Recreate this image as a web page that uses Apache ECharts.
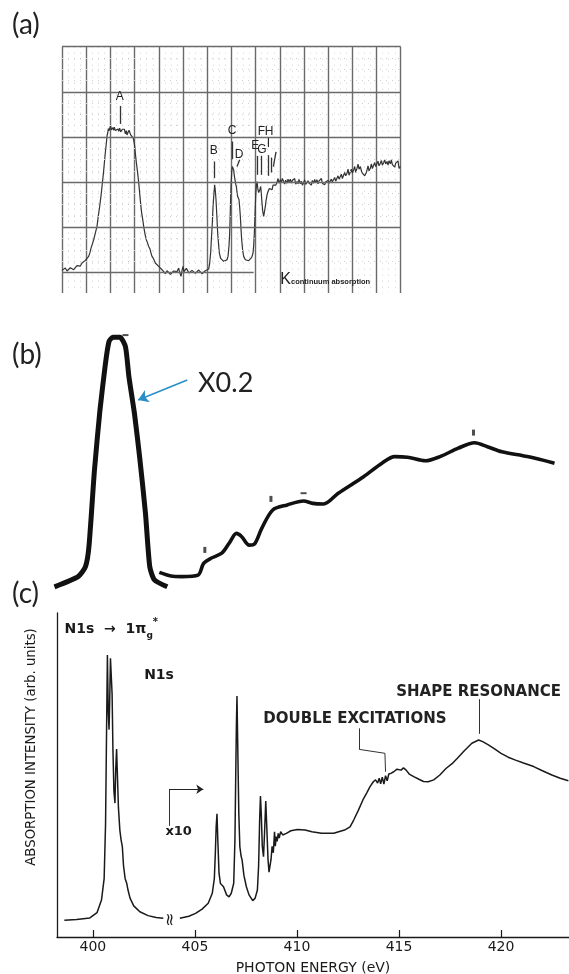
<!DOCTYPE html>
<html>
<head>
<meta charset="utf-8">
<script src="https://cdn.jsdelivr.net/npm/echarts@6/dist/echarts.min.js"></script>
<style>
  html, body { margin: 0; padding: 0; background: #fff; }
  #chart { width: 569px; height: 974px; }
</style>
</head>
<body>
<div id="chart"></div>
<script>
// ---------------- panel (a): chart-recorder trace, chart-paper units ----------------
const traceA = [
  [0,6],[5,12],[10,13],[15,4],[20,3],[25,14],[30,18],[35,8],[40,10],[45,20],[50,23],[55,19],[60,28],[65,30],
  [70,36],[75,40],[80,48],[84,60],[87,73],[91,85],[95,98],[100,118],[105,138],[109,170],[113,198],[117,230],
  [120,258],[124,295],[127,328],[130,360],[133,388],[135,410],[137,418],[139,432],[141,425],[143,433],[146,440],
  [148,428],[150,423],[153,435],[155,427],[157,436],[160,426],[162,432],[165,420],[168,431],[170,424],[173,433],
  [176,422],[178,418],[181,430],[184,425],[187,430],[190,416],[193,426],[195,413],[198,420],[201,427],[203,423],
  [206,413],[208,418],[210,416],[213,405],[215,398],[218,380],[220,358],[223,330],[227,298],[230,270],[233,238],
  [236,205],[239,178],[242,160],[245,138],[249,115],[253,98],[256,90],[260,78],[264,70],[267,58],[270,48],
  [275,40],[280,28],[285,25],[290,18],[295,14],[300,8],[305,2],[310,-4],[315,5],[320,3],[325,-6],[330,-2],
  [335,4],[340,8],[345,2],[350,13],[353,0],[357,-12],[360,5],[363,18],[366,2],[370,3],[373,12],[377,8],
  [381,-2],[385,-4],[390,6],[395,3],[400,-3],[405,-2],[410,7],[415,6],[420,-4],[425,-7],[430,5],[435,3],
  [440,10],[443,28],[446,60],[448,98],[451,150],[453,198],[456,240],[458,263],[460,245],[462,218],[465,160],
  [467,118],[470,80],[472,58],[476,42],[480,38],[485,33],[490,33],[495,38],[498,48],[501,80],[503,118],
  [505,190],[507,258],[509,300],[511,318],[513,312],[515,308],[517,290],[519,278],[521,265],[523,258],[525,240],
  [527,228],[529,222],[531,218],[533,195],[535,168],[537,130],[539,98],[542,65],[545,48],[550,38],[555,33],
  [560,35],[565,38],[569,45],[573,58],[575,80],[577,118],[579,175],[581,228],[583,260],[585,273],[587,255],
  [588,248],[590,240],[592,238],[594,250],[596,258],[598,235],[600,208],[602,185],[605,168],[607,180],[610,198],
  [612,215],[615,233],[617,240],[620,243],[622,252],[625,258],[627,250],[630,248],[633,262],[637,268],[641,262],
  [645,270],[648,282],[651,268],[655,278],[658,270],[661,282],[665,273],[668,265],[671,277],[675,268],[678,280],
  [681,271],[685,280],[688,268],[691,276],[695,270],[698,282],[701,265],[705,273],[708,266],[711,279],[715,266],
  [718,274],[721,262],[725,270],[728,278],[731,264],[735,263],[738,275],[741,268],[745,273],[748,262],[751,276],
  [755,268],[758,279],[761,270],[765,278],[768,266],[771,275],[775,270],[778,282],[781,268],[785,273],[788,263],
  [791,272],[795,266],[798,276],[801,268],[805,270],[808,280],[811,272],[815,273],[818,285],[821,274],[825,278],
  [828,290],[831,280],[835,283],[838,295],[841,282],[845,288],[848,300],[851,290],[855,298],[858,310],[861,292],
  [865,293],[868,310],[871,298],[875,308],[878,318],[881,300],[885,313],[888,325],[891,310],[895,318],[898,305],
  [901,298],[905,303],[908,290],[910,288],[913,300],[915,308],[918,320],[921,305],[925,313],[928,326],[931,312],
  [935,318],[938,330],[941,318],[945,323],[948,334],[951,320],[955,328],[958,336],[961,322],[965,330],[968,338],
  [971,326],[975,333],[978,322],[981,335],[985,326],[988,338],[991,324],[995,330],[998,316],[1001,328],[1005,323],
  [1008,335],[1011,312],[1015,318]
];
const paperRows = [0, 135.6, 271.2, 406.8, 542.4, 678];
const lettersA = ['A', 'B', 'C', 'D', 'E', 'F', 'G', 'H', 'I'];
const letterAt = [[173,528],[455,365],[510,426],[531,353],[580,380],[598,422],[600,368],[621,422],[619,386]];
const pointersA = [
  [[175,500],[175,446]], [[457,333],[457,283]], [[511,393],[511,340]], [[533,338],[525,318]],
  [[585,350],[585,293]], [[597,350],[597,293]], [[620,352],[620,290]], [[628,345],[628,300]],
  [[642,362],[634,318]]
];

// ---------------- panel (b): earlier spectrum, eV scale ----------------
const traceB1 = [
  [398.11,4.4],[399.27,7.8],[399.63,11.1],[399.80,17.8],[400.07,43.3],[400.34,63.3],[400.61,78.9],
  [400.78,86.1],[400.97,87.6],[401.32,87.6],[401.59,84.4],[401.76,74.4],[402.03,62.2],[402.30,46.7],
  [402.57,28.9],[402.78,11.1],[403.01,6.7],[403.64,4.4]
];
const traceB2 = [
  [403.25,9.2],[403.82,8.0],[404.35,7.8],[405.15,8.3],[405.42,12.2],[405.78,13.9],[406.31,15.6],
  [406.67,18.9],[407.03,22.2],[407.29,21.1],[407.65,18.3],[407.92,18.7],[408.27,23.9],[408.81,30.0],
  [409.52,31.7],[410.32,33.0],[410.77,32.2],[411.30,32.0],[412.02,35.6],[413.26,41.1],[414.16,45.6],
  [414.78,47.8],[415.41,47.6],[416.30,46.4],[417.01,47.8],[417.90,50.6],[418.70,52.4],[419.33,51.1],
  [420.04,49.4],[421.29,47.8],[422.62,45.6]
];
const specksB = [[405.48,16.7],[408.72,33.7],[418.65,55.8]];
const dashesB = [[410.32,35.6],[401.59,88.3]];

// ---------------- panel (c): N2 K-shell absorption ----------------
const traceC1 = [
  [398.6,5.2],[399.2,5.4],[399.85,5.9],[400.2,7.5],[400.42,11.4],[400.55,18],[400.62,35],[400.68,70],
  [400.71,87],[400.75,70],[400.79,64],[400.82,72],[400.86,86],[400.9,86.5],[400.94,75],[400.98,58],
  [401.03,45],[401.08,41.3],[401.12,52],[401.16,58],[401.2,50],[401.25,40],[401.32,33],[401.38,30],
  [401.44,28],[401.5,22],[401.58,18],[401.66,16.5],[401.72,14.5],[401.82,12],[402.0,9.6],[402.3,7.8],
  [402.7,6.6],[403.1,6.0],[403.45,5.8]
];
const traceC2 = [
  [404.26,5.8],[404.7,6.4],[405.03,7.3],[405.35,8.6],[405.65,10.4],[405.85,13.5],[405.95,18],[406.0,26],
  [406.04,34],[406.08,38],[406.12,30],[406.18,19.7],[406.25,16.5],[406.31,16.2],[406.4,15.5],[406.55,13],
  [406.67,12.4],[406.78,13.5],[406.9,16.6],[406.96,30],[406.99,45.4],[407.03,65],[407.06,74.4],[407.09,62],
  [407.11,53.6],[407.15,38],[407.2,27.9],[407.26,25],[407.31,23.8],[407.4,19],[407.52,15.5],[407.65,13],
  [407.83,11.2],[407.95,12],[408.06,14.5],[408.12,22],[408.17,36],[408.21,43.5],[408.25,38],[408.3,28],
  [408.36,24.8],[408.41,32],[408.47,42],[408.52,34],[408.58,24],[408.63,20],[408.68,19.7],[408.73,24],
  [408.78,28],[408.84,26],[408.9,32.5],[408.94,28],[408.98,31],[409.03,29.5],[409.08,32],[409.13,30.5],
  [409.2,32.5],[409.3,31.5],[409.48,32],[409.7,32.8],[410.02,33.2],[410.4,33],[410.73,32.5],[411.2,32],
  [411.8,32],[412.33,33],[412.6,34],[412.78,36.1],[413.0,39],[413.23,42.3],[413.42,44.5],[413.58,46.4],
  [413.75,48],[413.85,48.5],[413.95,47.5],[414.03,49],[414.1,47.3],[414.18,49.3],[414.26,47.2],[414.34,49.8],
  [414.42,48.2],[414.5,50.3],[414.6,50.5],[414.74,51],[414.9,51.8],[415.1,51.5],[415.22,52.2],[415.35,51.5],
  [415.5,50.3],[415.72,49.5],[416.0,48.6],[416.2,48],[416.43,47.9],[416.7,48.5],[417.0,50],[417.3,52],
  [417.6,53.5],[417.86,55.2],[418.2,57.5],[418.57,59.8],[418.9,60.8],[419.1,60.3],[419.38,59.3],[419.7,58],
  [420.0,56.7],[420.35,55.5],[420.71,54.6],[421.1,53.7],[421.6,52.6],[422.0,51.4],[422.49,50],[422.9,49],
  [423.3,48.2]
];
const tickValues = [400, 405, 410, 415, 420];
const leadersC = [
  [[413.05,64.4],[413.05,57.9]], [[413.05,57.9],[414.31,56.7]], [[414.31,56.7],[414.34,51]],
  [[418.92,73.4],[418.92,62.7]], [[403.73,34.3],[403.73,45.6]]
];

const chart = echarts.init(document.getElementById('chart'));

const ink = '#1a1a1a';
const gothic = 'DejaVu Sans';

// paper grid rows (major full lines, bottom one short) and dotted minor rows
let paperLines = [];
paperRows.forEach((r, i) => {
  paperLines.push([
    { coord: [0, r], lineStyle: { color: '#6a6a6a', width: 1.4, type: 'solid' } },
    { coord: [i === 0 ? 575 : 1016, r] }
  ]);
  if (i < paperRows.length - 1) {
    let step = (paperRows[i + 1] - r) / 4;
    for (let j = 1; j < 4; j++) {
      paperLines.push([
        { coord: [0, r + j * step], lineStyle: { color: '#cfcfcf', width: 1, type: [1, 5] } },
        { coord: [1016, r + j * step] }
      ]);
    }
  }
});
pointersA.forEach(p => {
  paperLines.push([{ coord: p[0], lineStyle: { color: '#333', width: 1.3, type: 'solid' } }, { coord: p[1] }]);
});

let letterPoints = lettersA.map((t, i) => ({ name: t, coord: letterAt[i] }));
letterPoints.push({
  name: 'K', coord: [655, -22],
  label: {
    position: 'right', distance: 0,
    formatter: '{k|K}{s|continuum absorption}',
    rich: {
      k: { fontFamily: 'Liberation Sans', fontSize: 16, color: '#222' },
      s: { fontFamily: 'Liberation Sans', fontSize: 7.5, fontWeight: 'bold', color: '#222', padding: [4, 0, 0, 0] }
    }
  }
});

let option = {
  animation: false,
  backgroundColor: '#fff',
  title: [
    { text: '(a)', left: 12, top: 11, padding: 0, textStyle: { fontFamily: 'Lato', fontSize: 28, fontWeight: 'normal', color: '#222' } },
    { text: '(b)', left: 12, top: 341, padding: 0, textStyle: { fontFamily: 'Lato', fontSize: 28, fontWeight: 'normal', color: '#222' } },
    { text: '(c)', left: 12, top: 580, padding: 0, textStyle: { fontFamily: 'Lato', fontSize: 28, fontWeight: 'normal', color: '#222' } }
  ],
  grid: [
    { left: 62, top: 46.7, width: 338.7, height: 246.3, outerBoundsMode: 'none' },
    { left: 0, right: 0, top: 300, height: 300, outerBoundsMode: 'none' },
    { left: 57, right: 0, top: 613, height: 324, outerBoundsMode: 'none' }
  ],
  xAxis: [
    {
      gridIndex: 0, type: 'value', min: 0, max: 1016, interval: 72.6,
      axisLine: { show: false }, axisTick: { show: false }, axisLabel: { show: false },
      splitLine: { show: true, lineStyle: { color: '#6a6a6a', width: 1.4 } },
      minorTick: { show: false, splitNumber: 4 },
      minorSplitLine: { show: true, lineStyle: { color: '#d2d2d2', width: 1, type: [1, 5] } }
    },
    { gridIndex: 1, type: 'value', min: 395.44, max: 423.33, show: false },
    {
      gridIndex: 2, type: 'value', min: 398.24, max: 423.33,
      axisLine: { show: true, lineStyle: { color: ink, width: 1.3 } },
      axisTick: { show: true, inside: true, length: 7, customValues: tickValues, lineStyle: { color: ink, width: 1.2 } },
      axisLabel: { customValues: tickValues, margin: 3, fontFamily: gothic, fontSize: 14, color: ink },
      splitLine: { show: false },
      name: 'PHOTON ENERGY (eV)', nameLocation: 'middle', nameGap: 24, nameMoveOverlap: false,
      nameTextStyle: { fontFamily: gothic, fontSize: 14, color: ink }
    }
  ],
  yAxis: [
    { gridIndex: 0, type: 'value', min: -62, max: 678, show: false },
    { gridIndex: 1, type: 'value', min: 0, max: 100, show: false },
    {
      gridIndex: 2, type: 'value', min: 0, max: 100,
      axisLine: { show: true, lineStyle: { color: ink, width: 1.3 } },
      axisTick: { show: false }, axisLabel: { show: false }, splitLine: { show: false },
      name: 'ABSORPTION INTENSITY (arb. units)', nameLocation: 'middle', nameGap: 19, nameMoveOverlap: false,
      nameTextStyle: { fontFamily: gothic, fontSize: 13.3, color: ink, padding: [0, 0, 0, 56] }
    }
  ],
  series: [
    {
      name: 'trace a', type: 'line', xAxisIndex: 0, yAxisIndex: 0, data: traceA,
      showSymbol: false, silent: true, clip: false,
      lineStyle: { color: '#333', width: 1.2 },
      markLine: { silent: true, symbol: 'none', label: { show: false }, data: paperLines },
      markPoint: {
        silent: true, symbol: 'circle', symbolSize: 0,
        label: { show: true, position: 'inside', formatter: '{b}', fontFamily: 'Liberation Sans', fontSize: 12, color: '#222' },
        data: letterPoints
      },
      z: 3
    },
    {
      name: 'trace b peak', type: 'line', xAxisIndex: 1, yAxisIndex: 1, data: traceB1,
      showSymbol: false, silent: true, smooth: 0.2,
      lineStyle: { color: '#111', width: 5 },
      markLine: {
        silent: true, label: { show: false }, symbol: ['none', 'arrow'], symbolSize: 10,
        lineStyle: { color: '#2a8ec6', width: 1.6, type: 'solid' },
        data: [[{ coord: [404.62, 73.3] }, { coord: [402.21, 66.7] }]]
      },
      markPoint: {
        silent: true, symbolSize: 0,
        data: [{ name: 'X0.2', coord: [405.15, 72.3] }],
        label: { show: true, position: 'right', distance: 0, formatter: '{b}', fontFamily: 'Lato', fontSize: 27, color: '#222' }
      }
    },
    {
      name: 'trace b', type: 'line', xAxisIndex: 1, yAxisIndex: 1, data: traceB2,
      showSymbol: false, silent: true, smooth: 0.3,
      lineStyle: { color: '#111', width: 3.6 }
    },
    {
      name: 'specks', type: 'scatter', xAxisIndex: 1, yAxisIndex: 1, data: specksB,
      symbol: 'rect', symbolSize: [3, 6], itemStyle: { color: '#222' }, silent: true
    },
    {
      name: 'dashes', type: 'scatter', xAxisIndex: 1, yAxisIndex: 1, data: dashesB,
      symbol: 'rect', symbolSize: [6, 2], itemStyle: { color: '#222' }, silent: true
    },
    {
      name: 'N1s', type: 'line', xAxisIndex: 2, yAxisIndex: 2, data: traceC1,
      showSymbol: false, silent: true,
      lineStyle: { color: ink, width: 1.5 },
      markPoint: {
        silent: true, symbolSize: 0,
        label: { show: true, position: 'inside', formatter: '{b}', fontFamily: gothic, fontSize: 13, fontWeight: 'bold', color: ink },
        data: [
          {
            name: 'pi', coord: [398.61, 95.1],
            label: {
              position: 'right', distance: 0,
              formatter: '{b|N1s  →  1π}{g|g}{s|*}',
              rich: {
                b: { fontFamily: gothic, fontWeight: 'bold', fontSize: 14, color: ink, lineHeight: 22, verticalAlign: 'middle' },
                g: { fontFamily: gothic, fontWeight: 'bold', fontSize: 9, color: ink, lineHeight: 9, verticalAlign: 'bottom' },
                s: { fontFamily: gothic, fontWeight: 'bold', fontSize: 10, color: ink, lineHeight: 10, verticalAlign: 'top' }
              }
            }
          },
          { name: 'N1s', coord: [403.24, 80.9], label: { fontSize: 14 } },
          { name: 'x10', coord: [404.2, 32.5], label: { fontSize: 13 } },
          { name: '≈', coord: [403.8, 5.4], label: { fontSize: 17, fontWeight: 'normal', rotate: 90 } }
        ]
      }
    },
    {
      name: 'N1s x10', type: 'line', xAxisIndex: 2, yAxisIndex: 2, data: traceC2,
      showSymbol: false, silent: true,
      lineStyle: { color: ink, width: 1.5 },
      markLine: {
        silent: true, symbol: 'none', label: { show: false },
        lineStyle: { color: '#333', width: 1, type: 'solid' },
        data: leadersC.map(l => [{ coord: l[0] }, { coord: l[1] }]).concat([
          [{ coord: [403.73, 45.6], symbol: 'none', lineStyle: { color: '#222', width: 1.2, type: 'solid' } },
           { coord: [405.41, 45.6], symbol: 'arrow', symbolSize: 7 }]
        ])
      },
      markPoint: {
        silent: true, symbolSize: 0,
        label: { show: true, position: 'inside', formatter: '{b}', fontFamily: gothic, fontSize: 15, fontWeight: 'bold', color: '#222' },
        data: [
          { name: 'DOUBLE EXCITATIONS', coord: [412.84, 67.3] },
          { name: 'SHAPE RESONANCE', coord: [418.9, 75.7] }
        ]
      }
    }
  ]
};

chart.setOption(option);
</script>
</body>
</html>
